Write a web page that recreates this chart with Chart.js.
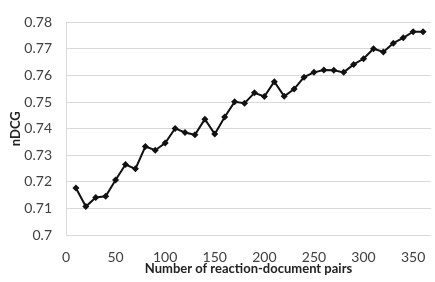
<!DOCTYPE html>
<html>
<head>
<meta charset="utf-8">
<script src="https://cdn.jsdelivr.net/npm/chart.js@4/dist/chart.umd.min.js"></script>
<style>
  html, body { margin: 0; padding: 0; background: #fff; }
  #wrap { width: 435px; height: 282px; }
</style>
</head>
<body>
<div id="wrap"><canvas id="chart"></canvas></div>
<script>
// number of reaction-document pairs
const pairs = [10, 20, 30, 40, 50, 60, 70, 80, 90, 100, 110, 120, 130, 140, 150, 160, 170, 180,
    190, 200, 210, 220, 230, 240, 250, 260, 270, 280, 290, 300, 310, 320, 330, 340, 350, 360];

// nDCG
const ndcg = [0.7177, 0.7107, 0.7141, 0.7146, 0.7207, 0.7265, 0.7249, 0.7333, 0.7319, 0.7346,
    0.7401, 0.7386, 0.7377, 0.7436, 0.7380, 0.7444, 0.7501, 0.7496, 0.7535, 0.7521,
    0.7577, 0.7522, 0.7549, 0.7594, 0.7612, 0.7621, 0.7620, 0.7612, 0.7642, 0.7663,
    0.7701, 0.7689, 0.7722, 0.7742, 0.7765, 0.7765];

const xTitle = "Number of reaction-document pairs";
const yTitle = "nDCG";

const points = pairs.map((p, i) => ({x: p, y: ndcg[i]}));

const tickFont = {family: "Lato", size: 14};
const titleFont = {family: "Lato", size: 13, weight: "bold"};

new Chart(document.getElementById("chart"), {
    type: "line",
    data: {
        datasets: [{
            data: points,
            borderColor: "#111",
            backgroundColor: "#111",
            borderWidth: 2,
            pointStyle: "rectRot",
            pointRadius: 3.5,
            pointBorderWidth: 0,
            tension: 0
        }]
    },
    options: {
        responsive: true,
        maintainAspectRatio: false,
        animation: false,
        layout: { padding: { top: 19, right: 1, left: 0, bottom: 0 } },
        plugins: { legend: { display: false }, tooltip: { enabled: false } },
        scales: {
            x: {
                type: "linear",
                min: 0,
                max: 368,
                grid: { display: false },
                border: { display: false },
                ticks: { stepSize: 50, includeBounds: false, color: "#404040", font: tickFont, padding: 6, maxRotation: 0 },
                title: { display: true, text: xTitle, color: "#222", font: titleFont, padding: { top: 0, bottom: 5 } },
                afterFit: (axis) => { axis.height = 47; }
            },
            y: {
                min: 0.7,
                max: 0.78,
                grid: { color: "#d9d9d9", lineWidth: 1, drawTicks: false },
                border: { display: true, color: "#d9d9d9" },
                ticks: {
                    stepSize: 0.01,
                    color: "#404040",
                    font: tickFont,
                    padding: 14,
                    callback: (v) => String(Number(v.toFixed(2)))
                },
                title: { display: true, text: yTitle, color: "#222", font: titleFont, padding: { top: 8, bottom: 0 } },
                afterFit: (axis) => { axis.width = 66; }
            }
        }
    }
});
</script>
</body>
</html>
